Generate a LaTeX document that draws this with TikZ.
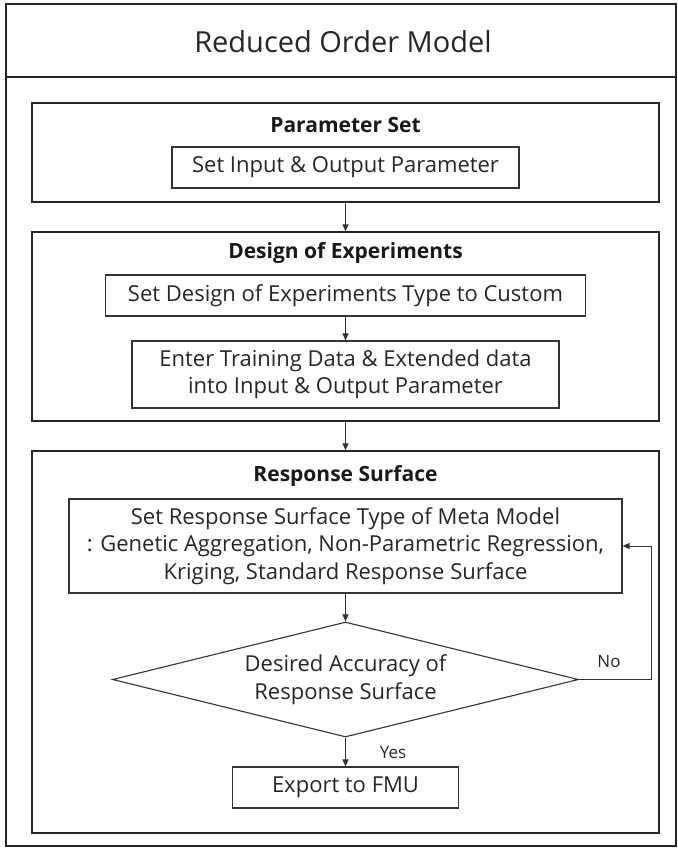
\documentclass[tikz,border=0pt]{standalone}
\usepackage{fontspec}
\setmainfont{Open Sans}
\usetikzlibrary{shapes.geometric,arrows.meta}
\begin{document}
\begin{tikzpicture}[x=1pt,y=-1pt,
  body/.style={font=\fontsize{22}{27.5}\selectfont, text=black!85},
  box/.style={draw=black!80, line width=1.1pt, inner sep=0pt, align=center, body},
  group/.style={draw=black!85, line width=1.5pt, inner sep=0pt},
  head/.style={font=\bfseries\fontsize{21}{24}\selectfont, text=black!90},
  arr/.style={draw=black!80, line width=1pt, -{Triangle[length=7pt,width=6pt]}},
  lbl/.style={font=\fontsize{17}{20}\selectfont, text=black!85},
]
\useasboundingbox (0,0) rectangle (677,850);
% outer frame
\node[group, line width=1.8pt, minimum width=670pt, minimum height=842pt] (outer) at (341,425) {};
\coordinate (sepL) at (6,77);
\coordinate (sepR) at (676,77);
\draw[draw=black!85, line width=1.5pt] (sepL) -- (sepR);
\node[font=\fontsize{29}{33}\selectfont, text=black!85] (title) at (343,42) {Reduced Order Model};

% Parameter Set
\node[group, minimum width=627pt, minimum height=99pt] (ps) at (345.5,152.5) {};
\node[head] (pshead) at (345.5,125) {Parameter Set};
\node[box, minimum width=347pt, minimum height=41pt] (ps1) at (345.5,167.5) {Set Input \& Output Parameter};

% Design of Experiments
\node[group, minimum width=627pt, minimum height=189pt] (doe) at (345.5,326.5) {};
\node[head] (doehead) at (345.5,253) {Design of Experiments};
\node[box, minimum width=480pt, minimum height=41pt] (doe1) at (345.5,295.5) {Set Design of Experiments Type to Custom};
\node[box, minimum width=427pt, minimum height=67pt] (doe2) at (345.5,374.5) {Enter Training Data \& Extended data\\into Input \& Output Parameter};

% Response Surface
\node[group, minimum width=627pt, minimum height=382pt] (rs) at (345.5,642) {};
\node[head] (rshead) at (345.5,476) {Response Surface};
\node[box, minimum width=553pt, minimum height=94pt] (rs1) at (345.5,546) {Set Response Surface Type of Meta Model\\: Genetic Aggregation, Non-Parametric Regression,\\Kriging, Standard Response Surface};
\node[box, diamond, aspect=4, minimum width=466pt, minimum height=115pt] (dia) at (345.5,679.5) {Desired Accuracy of\\Response Surface};
\node[box, minimum width=226pt, minimum height=41pt] (exp) at (345.5,787.5) {Export to FMU};

% connectors
\draw[arr] (ps.south) -- (doe.north);
\draw[arr] (doe1.south) -- (doe2.north);
\draw[arr] (doe.south) -- (rs.north);
\draw[arr] (rs1.south) -- (dia.north);
\draw[arr] (dia.south) -- (exp.north);
\coordinate (fb) at (651,679.5);
\draw[arr] (dia.east) -- (fb) |- (rs1.east);
\node[lbl] (no) at (609,662) {No};
\node[lbl] (yes) at (393,753) {Yes};
\end{tikzpicture}
\end{document}
